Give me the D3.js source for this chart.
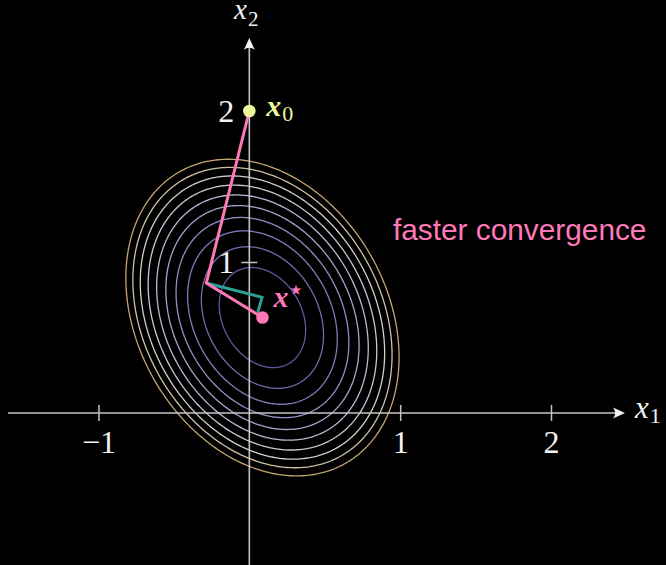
<!DOCTYPE html>
<html>
<head>
<meta charset="utf-8">
<script src="https://cdn.jsdelivr.net/npm/d3@7"></script>
<style>
  html, body { margin: 0; padding: 0; background: #000; }
  svg { display: block; }
</style>
</head>
<body>
<svg id="chart" width="666" height="565"></svg>
<script>
// Quadratic objective f(x) = (x - x*)^T A (x - x*)
const xStar = [0.087, 0.632];
const hessian = [[1.3, 0.28], [0.28, 0.97]];
const contourLevels = [0.1, 0.2, 0.3, 0.4, 0.5, 0.6, 0.7, 0.8, 0.9, 1.0];

// Iterates of the two methods
const startPoint = [0, 2];
const fastPath = [[0, 2], [-0.285, 0.861], [0.087, 0.632]];
const slowPath = [[-0.285, 0.861], [0.084, 0.766], [0.056, 0.665]];

// Axis ticks
const xTicks = [-1, 1, 2];
const yTicks = [1, 2];
const yTickMarks = [1];

const W = 666, H = 565;
const svg = d3.select("#chart");
svg.append("rect").attr("width", W).attr("height", H).attr("fill", "#000");

const x = d3.scaleLinear().domain([-1, 2]).range([98.5, 551]);
const y = d3.scaleLinear().domain([0, 2]).range([413, 111]);

const axisColor = "#c4c4c4";
const pink = "#ff79b8";
const teal = "#2aa198";
const yellow = "#ecf79a";

// ---- contour ellipses ----
// S = A^{-1} and its Cholesky factor, used to trace each level set
const det = hessian[0][0] * hessian[1][1] - hessian[0][1] * hessian[1][0];
const S = [[hessian[1][1] / det, -hessian[0][1] / det], [-hessian[1][0] / det, hessian[0][0] / det]];
const l11 = Math.sqrt(S[0][0]);
const l21 = S[1][0] / l11;
const l22 = Math.sqrt(S[1][1] - l21 * l21);

const contourColor = d3.scaleLinear()
  .domain([0.1, 0.4, 0.65, 0.8, 0.9, 1.0])
  .range(["#5e5aa0", "#8f8fc4", "#c4c4d8", "#d2d0cc", "#cfc2a8", "#c4a470"])
  .interpolate(d3.interpolateRgb);

const angles = d3.range(0, 2 * Math.PI, Math.PI / 180);
const ellipseLine = d3.line()
  .x(d => x(d[0]))
  .y(d => y(d[1]))
  .curve(d3.curveLinearClosed);

svg.append("g").selectAll("path")
  .data(contourLevels)
  .join("path")
  .attr("d", lvl => {
    const r = Math.sqrt(lvl);
    return ellipseLine(angles.map(t => {
      const u = r * Math.cos(t), v = r * Math.sin(t);
      return [xStar[0] + l11 * u, xStar[1] + l21 * u + l22 * v];
    }));
  })
  .attr("fill", "none")
  .attr("stroke", lvl => contourColor(lvl))
  .attr("stroke-width", 1.3);

// ---- axes ----
const arrowHead = "M0,0 L-12,-5.5 Q-7.5,0 -12,5.5 Z";
const serif = "'Liberation Serif', 'DejaVu Serif', serif";

const gx = svg.append("g")
  .attr("transform", `translate(0,${y(0) - 8})`)
  .call(d3.axisBottom(x).tickValues(xTicks).tickSize(16).tickSizeOuter(0).tickFormat(d3.format("d")));
gx.select(".domain").remove();
gx.selectAll(".tick line").attr("stroke", axisColor).attr("stroke-width", 1.5);
gx.selectAll(".tick text")
  .attr("y", 48).attr("dy", null)
  .attr("fill", "#f2f2f2")
  .attr("font-family", serif)
  .attr("font-size", 32);

const gy = svg.append("g")
  .attr("transform", `translate(${x(0) + 8},0)`)
  .call(d3.axisLeft(y).tickValues(yTicks).tickSize(16).tickSizeOuter(0).tickFormat(d3.format("d")));
gy.select(".domain").remove();
gy.selectAll(".tick line")
  .attr("stroke", d => yTickMarks.includes(d) ? axisColor : "none")
  .attr("stroke-width", 1.5);
gy.selectAll(".tick text")
  .attr("x", -23).attr("dy", "0.34em")
  .attr("fill", "#f2f2f2")
  .attr("font-family", serif)
  .attr("font-size", 32);

// axis lines with arrow heads
svg.append("line")
  .attr("x1", 8).attr("x2", 620).attr("y1", y(0)).attr("y2", y(0))
  .attr("stroke", axisColor).attr("stroke-width", 1.6);
svg.append("path").attr("d", arrowHead)
  .attr("transform", `translate(625,${y(0)})`).attr("fill", "#f2f2f2");

svg.append("line")
  .attr("x1", x(0)).attr("x2", x(0)).attr("y1", H).attr("y2", 43)
  .attr("stroke", axisColor).attr("stroke-width", 1.6);
svg.append("path").attr("d", arrowHead)
  .attr("transform", `translate(${x(0)},38) rotate(-90)`).attr("fill", "#f2f2f2");

// math-style labels: italic main symbol with a sub/superscript
function mathLabel(px, py, main, sub, opts) {
  const t = svg.append("text")
    .attr("x", px).attr("y", py)
    .attr("fill", opts.color)
    .attr("font-family", serif)
    .attr("font-size", opts.size);
  t.append("tspan").attr("font-style", "italic").attr("font-weight", opts.bold ? "bold" : "normal").text(main);
  if (sub) {
    t.append("tspan")
      .attr("dx", opts.subDx || 1)
      .attr("dy", opts.subDy)
      .attr("font-size", opts.subSize)
      .attr("font-weight", opts.subBold ? "bold" : "normal")
      .text(sub);
  }
  return t;
}

mathLabel(635, 418, "x", "1", { color: "#f2f2f2", size: 31, subSize: 22, subDy: 5 });
mathLabel(234, 19, "x", "2", { color: "#f2f2f2", size: 29, subSize: 21, subDy: 7 });

// ---- optimisation paths ----
const pathLine = d3.line().x(d => x(d[0])).y(d => y(d[1]));

svg.append("path")
  .attr("d", pathLine(slowPath))
  .attr("fill", "none").attr("stroke", teal)
  .attr("stroke-width", 3).attr("stroke-linejoin", "miter");

svg.append("path")
  .attr("d", pathLine(fastPath))
  .attr("fill", "none").attr("stroke", pink)
  .attr("stroke-width", 3).attr("stroke-linejoin", "miter");

// start and optimum markers
svg.append("circle")
  .attr("cx", x(startPoint[0])).attr("cy", y(startPoint[1])).attr("r", 6.3)
  .attr("fill", yellow);
svg.append("circle")
  .attr("cx", x(xStar[0])).attr("cy", y(xStar[1])).attr("r", 6.3)
  .attr("fill", pink);

mathLabel(x(startPoint[0]) + 17, y(startPoint[1]) + 5, "x", "0",
  { color: yellow, size: 30, bold: true, subSize: 22, subDy: 5 });
mathLabel(x(xStar[0]) + 11, y(xStar[1]) - 11, "x", "\u22C6",
  { color: pink, size: 30, bold: true, subSize: 22, subDy: -10, subBold: true });

// annotation
svg.append("text")
  .attr("x", 393).attr("y", 240)
  .attr("fill", pink)
  .attr("font-family", "'Liberation Sans', Arial, sans-serif")
  .attr("font-size", 29.8)
  .text("faster convergence");
</script>
</body>
</html>
